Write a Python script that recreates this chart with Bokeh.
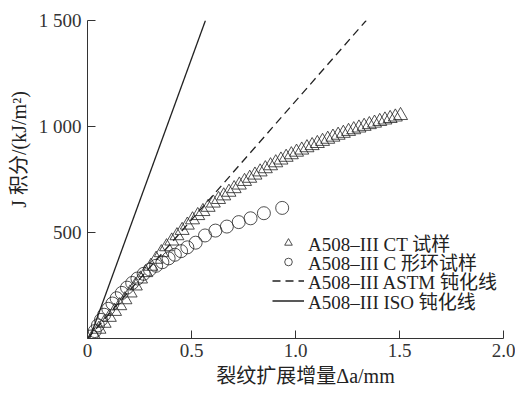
from bokeh.plotting import figure
from bokeh.models import Range1d, FixedTicker, Legend, LegendItem
from bokeh.embed import file_html
from bokeh.resources import INLINE

SERIF = "Liberation Serif, Noto Sans CJK SC"

# CT specimen (triangles)
ct_x = [0.030,0.055,0.080,0.105,0.130,0.155,0.180,0.205,0.230,0.255,0.280,0.305,0.330,0.355,0.380,0.405,0.430,0.455,0.480,0.505,
        0.530,0.555,0.580,0.605,0.630,0.655,0.680,0.705,0.730,0.755,0.780,0.805,0.830,0.855,0.880,0.905,0.930,0.955,0.980,1.005,
        1.030,1.055,1.080,1.105,1.130,1.155,1.180,1.205,1.230,1.255,1.280,1.305,1.330,1.355,1.380,1.405,1.430,1.455,1.480,1.505]
ct_j = [15,44,72,100,128,155,183,215,248,281,311,341,374,405,433,460,485,510,535,560,
        580,599,619,639,656,673,690,707,724,741,756,771,786,801,815,829,842,855,867,879,
        889,900,910,920,930,940,950,959,968,977,985,993,1001,1009,1016,1024,1031,1038,1045,1052]

# C-ring specimen (circles)
cr_x = [0.02,0.035,0.05,0.065,0.08,0.10,0.12,0.14,0.165,0.19,0.215,0.24,0.27,0.30,0.33,0.36,0.39,0.42,0.45,0.48,
        0.52,0.565,0.615,0.67,0.727,0.784,0.848,0.936]
cr_j = [10,35,62,88,112,140,165,190,215,240,262,283,305,325,343,360,378,395,412,430,
        452,486,509,528,549,567,591,616]

# blunting lines
astm_x = [0.0, 1.34]
astm_j = [0, 1500]
iso_x = [0.01, 0.567]
iso_j = [0, 1500]

x_ticks = [0, 0.5, 1.0, 1.5, 2.0]
x_labels = ["0", "0.5", "1.0", "1.5", "2.0"]
y_ticks = [500, 1000, 1500]
y_labels = ["500", "1 000", "1 500"]

labels = ["A508\u2013III CT 试样", "A508\u2013III C 形环试样",
          "A508\u2013III ASTM 钝化线", "A508\u2013III ISO 钝化线"]

p = figure(width=515, height=395, output_backend="svg", toolbar_location=None,
           x_range=Range1d(0, 2.0), y_range=Range1d(0, 1500),
           min_border_left=87, min_border_right=12, min_border_top=20, min_border_bottom=57)
p.outline_line_color = None
p.grid.visible = False
p.background_fill_color = "white"
p.border_fill_color = "white"

r_ct = p.scatter(ct_x, ct_j, marker="triangle", size=14, fill_color=None,
                 line_color="#222222", line_width=0.8)
r_cr = p.scatter(cr_x, cr_j, marker="circle", size=13, fill_color=None,
                 line_color="#222222", line_width=0.8)
r_astm = p.line(astm_x, astm_j, line_color="#222222", line_width=1.3, line_dash="8 5")
r_iso = p.line(iso_x, iso_j, line_color="#222222", line_width=1.3)

for ax in (p.xaxis[0], p.yaxis[0]):
    ax.major_tick_in = 8
    ax.major_tick_out = 0
    ax.minor_tick_line_color = None
    ax.axis_line_color = "#333333"
    ax.major_tick_line_color = "#333333"
    ax.major_label_text_font = SERIF
    ax.major_label_text_font_size = "19px"
    ax.major_label_text_color = "#333333"
    ax.axis_label_text_font = SERIF
    ax.axis_label_text_font_size = "20px"
    ax.axis_label_text_font_style = "normal"
    ax.axis_label_text_color = "#222222"

p.xaxis.ticker = FixedTicker(ticks=x_ticks)
p.xaxis.major_label_overrides = dict(zip(x_ticks, x_labels))
p.yaxis.ticker = FixedTicker(ticks=y_ticks)
p.yaxis.major_label_overrides = dict(zip(y_ticks, y_labels))
p.xaxis.major_label_standoff = 5
p.yaxis.major_label_standoff = 6

p.xaxis.axis_label = "\u00a0" * 4 + "裂纹扩展增量Δa/mm"
p.xaxis.axis_label_standoff = 5
p.yaxis.axis_label = "\u00a0" * 12 + "J 积分/(kJ/m²)"
p.yaxis.axis_label_standoff = 6

# legend: one Legend per row for tight row spacing
renderers = [r_ct, r_cr, r_astm, r_iso]
row_offsets = [82, 63, 44, 24]
for text, rend, yoff in zip(labels, renderers, row_offsets):
    lg = Legend(items=[LegendItem(label=text, renderers=[rend])], location=(185, yoff))
    lg.background_fill_alpha = 0
    lg.border_line_color = None
    lg.padding = 0
    lg.margin = 0
    lg.spacing = 0
    lg.glyph_width = 32
    lg.glyph_height = 19
    lg.label_height = 19
    lg.label_standoff = 4
    lg.label_text_font = SERIF
    lg.label_text_font_size = "19px"
    lg.label_text_color = "#222222"
    p.add_layout(lg)

open("out.html", "w").write(file_html(p, INLINE))
